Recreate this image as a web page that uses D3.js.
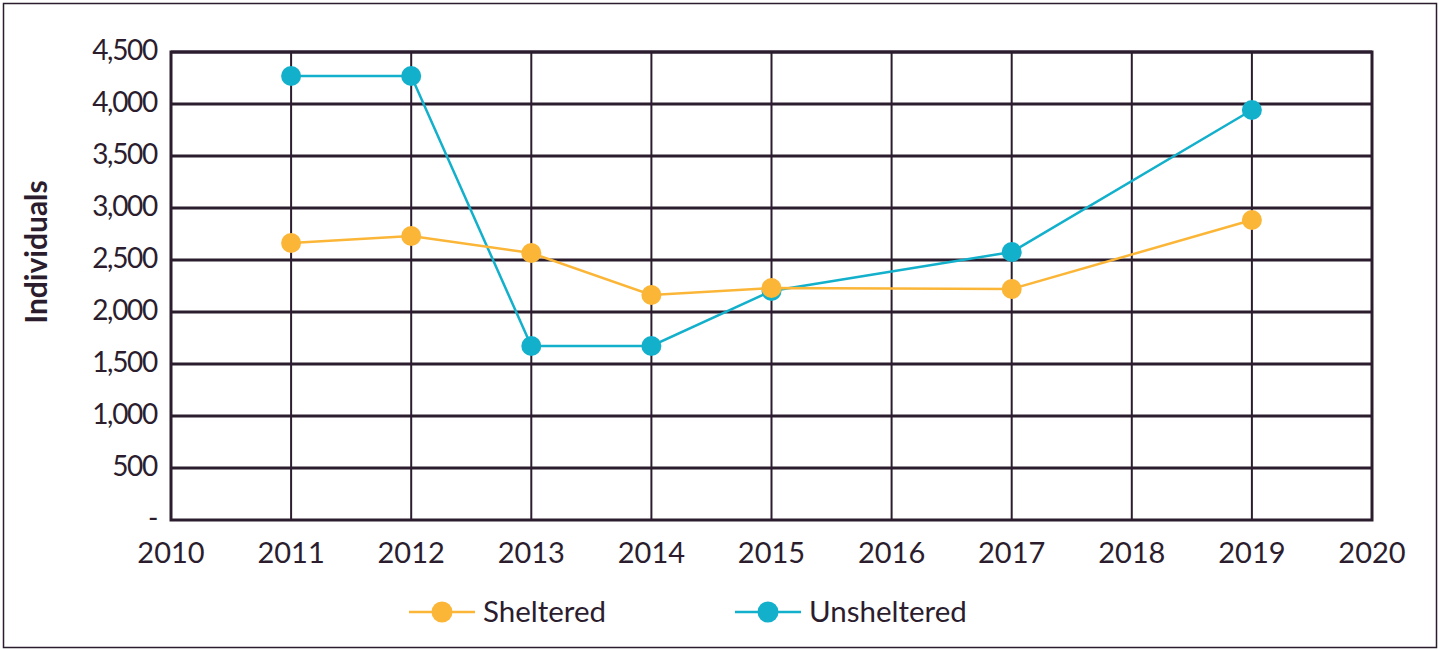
<!DOCTYPE html>
<meta charset="utf-8">
<style>
body { margin: 0; background: #fff; font-family: Lato, "Open Sans", sans-serif; color: #2b1d2e; }
svg text { fill: #2b1d2e; font-family: Lato, "Open Sans", sans-serif; }
</style>
<body>
<div id="chart"></div>
<script src="https://d3js.org/d3.v7.min.js"></script>
<script>
const years = [2011, 2012, 2013, 2014, 2015, 2017, 2019];
const sheltered = [2663, 2731, 2567, 2163, 2231, 2221, 2885];
const unsheltered = [4269, 4269, 1673, 1673, 2202, 2577, 3942];
const yTicks = [0, 500, 1000, 1500, 2000, 2500, 3000, 3500, 4000, 4500];
const xTicks = [2010, 2011, 2012, 2013, 2014, 2015, 2016, 2017, 2018, 2019, 2020];
const seriesNames = ["Sheltered", "Unsheltered"];
const colors = ["#fbb638", "#13b0cc"];

const width = 1439, height = 649;
const margin = {top: 52, right: 67, bottom: 129, left: 171};
const ink = "#2b1d2e";

const svg = d3.select("#chart").append("svg")
  .attr("width", width).attr("height", height);

// outer frame
svg.append("rect")
  .attr("x", 3.5).attr("y", 3.5)
  .attr("width", width - 6).attr("height", height - 5)
  .attr("fill", "none").attr("stroke", ink).attr("stroke-width", 1.5);

const x = d3.scaleLinear().domain([2010, 2020]).range([margin.left, width - margin.right]);
const y = d3.scaleLinear().domain([0, 4500]).range([height - margin.bottom, margin.top]);

// vertical grid
svg.append("g").selectAll("line")
  .data(xTicks.slice(1, -1))
  .join("line")
    .attr("x1", d => x(d)).attr("x2", d => x(d))
    .attr("y1", y(4500)).attr("y2", y(0))
    .attr("stroke", ink).attr("stroke-width", 2);

// horizontal grid
svg.append("g").selectAll("line")
  .data(yTicks.slice(1))
  .join("line")
    .attr("x1", x(2010)).attr("x2", x(2020))
    .attr("y1", d => y(d)).attr("y2", d => y(d))
    .attr("stroke", ink).attr("stroke-width", 3);

// plot frame
svg.append("rect")
  .attr("x", x(2010)).attr("y", y(4500))
  .attr("width", x(2020) - x(2010)).attr("height", y(0) - y(4500))
  .attr("fill", "none").attr("stroke", ink).attr("stroke-width", 3);

// y tick labels
svg.append("g").selectAll("text")
  .data(yTicks)
  .join("text")
    .attr("x", x(2010) - 14)
    .attr("y", d => y(d) + 8)
    .attr("text-anchor", "end")
    .attr("font-size", "28px")
    .attr("letter-spacing", "-1.3px")
    .text(d => d === 0 ? "-" : d3.format(",")(d));

// x tick labels
svg.append("g").selectAll("text")
  .data(xTicks)
  .join("text")
    .attr("x", d => x(d))
    .attr("y", y(0) + 43)
    .attr("text-anchor", "middle")
    .attr("font-size", "29px")
    .text(d => d);

svg.append("text")
  .attr("transform", `translate(47,252) rotate(-90)`)
  .attr("text-anchor", "middle")
  .attr("font-size", "30px")
  .attr("font-weight", "bold")
  .text("Individuals");

const line = d3.line().x((d, i) => x(years[i])).y(d => y(d));
const data = [sheltered, unsheltered];
// draw unsheltered first so sheltered sits on top
[1, 0].forEach(k => {
  svg.append("path")
    .datum(data[k])
    .attr("fill", "none")
    .attr("stroke", colors[k])
    .attr("stroke-width", 2.5)
    .attr("d", line);
  svg.append("g").selectAll("circle")
    .data(data[k])
    .join("circle")
      .attr("cx", (d, i) => x(years[i]))
      .attr("cy", d => y(d))
      .attr("r", 10)
      .attr("fill", colors[k]);
});

// legend
const legend = svg.append("g").selectAll("g")
  .data(seriesNames)
  .join("g")
    .attr("transform", (d, i) => `translate(${409 + i * 326},612)`);
legend.append("line")
  .attr("x1", 0).attr("x2", 66)
  .attr("stroke", (d, i) => colors[i]).attr("stroke-width", 2.5);
legend.append("circle")
  .attr("cx", 33).attr("r", 10.5)
  .attr("fill", (d, i) => colors[i]);
legend.append("text")
  .attr("x", 74).attr("y", 10)
  .attr("font-size", "29.5px")
  .text(d => d);
</script>
</body>
